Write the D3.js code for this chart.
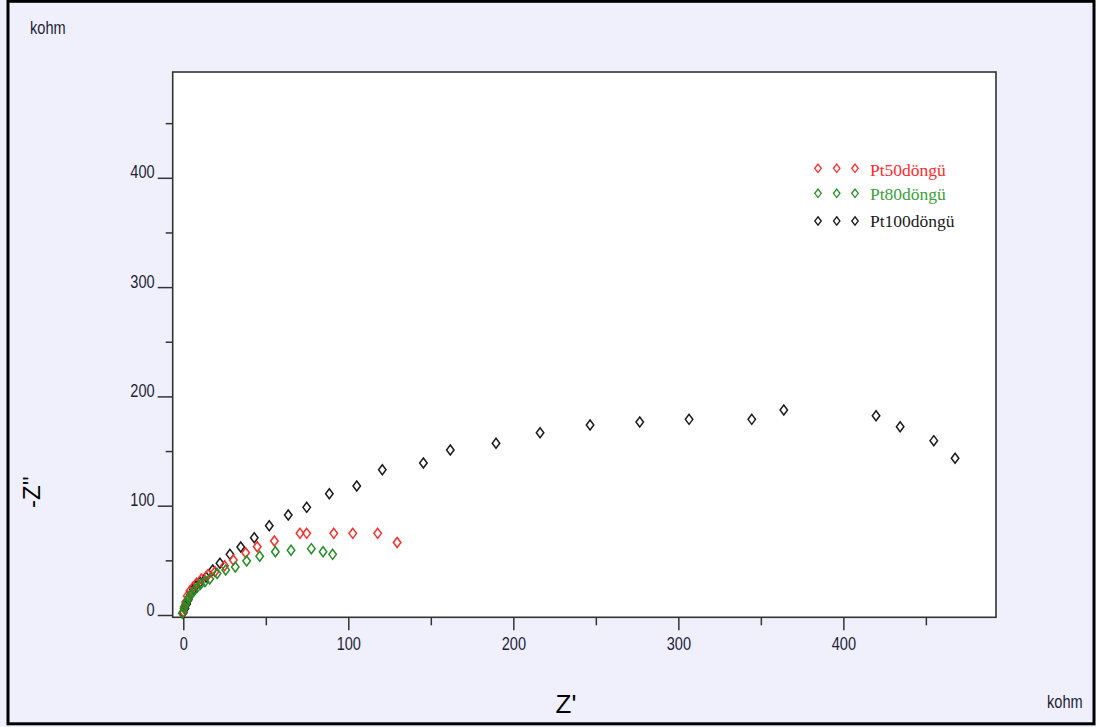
<!DOCTYPE html>
<html>
<head>
<meta charset="utf-8">
<script src="https://cdn.jsdelivr.net/npm/d3@7"></script>
<style>
  html, body { margin: 0; padding: 0; background: #f0f0fc; }
  svg { display: block; }
</style>
</head>
<body>
<svg id="chart" width="1096" height="727"></svg>
<script>
// ---- data (kohm) ----
const seriesNames = ["Pt50döngü", "Pt80döngü", "Pt100döngü"];
const seriesColors = ["#ff2a2a", "#229022", "#1a1a1a"];

const pt50X = [0, 0.6, 1.5, 2.4, 4, 6, 8, 11, 15, 19.2, 25, 30.3, 37.8, 44.8, 55.2, 70.7, 74.8, 91.2, 102.7, 117.8, 129.6];
const pt50Y = [3, 7.5, 12, 17.5, 22, 25.6, 29, 33, 37, 39.6, 45, 50.3, 57.0, 62.5, 67.7, 74.7, 74.7, 74.7, 74.7, 74.7, 66.3];

const pt80X = [-0.6, 0.4, 1.4, 2.4, 3.4, 4.8, 6.5, 8.5, 10.5, 13.1, 16, 20.5, 25.7, 31.5, 38.4, 46.3, 55.8, 65.3, 77.6, 84.7, 90.5];
const pt80Y = [1.5, 6.1, 9.8, 13.1, 16.2, 19.2, 22.2, 25.3, 28.1, 30.4, 33, 38, 41.2, 43.9, 49.4, 53.7, 57.9, 59.2, 60.7, 57.9, 55.5];

const pt100X = [0, 1, 2, 3, 4.5, 6, 7.5, 10.1, 13.8, 17.8, 22.2, 28.3, 34.8, 43.0, 52.1, 63.6, 74.8, 88.5, 105.1, 120.6, 145.5, 161.8, 189.5, 216.2, 246.5, 276.6, 306.5, 344.5, 363.9, 419.8, 434.4, 454.8, 467.7];
const pt100Y = [2, 6, 10, 14, 19, 23, 26.5, 30, 34.8, 41.2, 47.3, 55.5, 62.2, 70.7, 81.7, 91.5, 98.5, 111.0, 118.0, 132.9, 139.1, 151.0, 157.1, 166.8, 173.8, 176.6, 179.0, 179.0, 187.6, 182.3, 172.3, 159.5, 143.4];

const xMajorTicks = [0, 100, 200, 300, 400];
const xMinorTicks = [50, 150, 250, 350, 450];
const yMajorTicks = [0, 100, 200, 300, 400];
const yMinorTicks = [50, 150, 250, 350, 450];

const unitLabel = "kohm";
const xTitle = "Z'";
const yTitle = "-Z''";

// ---- layout ----
const W = 1096, H = 727;
const plot = { left: 172.7, right: 996, top: 72, bottom: 617.3 };

const svg = d3.select("#chart");
const numFont = "'Liberation Sans', Arial, sans-serif";

svg.append("rect").attr("x", 0).attr("y", 0).attr("width", W).attr("height", H).attr("fill", "#f0f0fc");
svg.append("rect").attr("x", 8).attr("y", 1.3).attr("width", 1086).attr("height", 722.5)
  .attr("fill", "none").attr("stroke", "#000").attr("stroke-width", 3);

const x = d3.scaleLinear().domain([-6.42, 492.5]).range([plot.left, plot.right]);
const y = d3.scaleLinear().domain([-2.1, 496.8]).range([plot.bottom, plot.top]);

svg.append("rect")
  .attr("x", plot.left).attr("y", plot.top)
  .attr("width", plot.right - plot.left).attr("height", plot.bottom - plot.top)
  .attr("fill", "#fff").attr("stroke", "#333").attr("stroke-width", 1.6);

// y axis
const yMinor = svg.append("g").attr("transform", `translate(${plot.left},0)`)
  .call(d3.axisLeft(y).tickValues(yMinorTicks).tickSize(7).tickFormat(""));
const yMajor = svg.append("g").attr("transform", `translate(${plot.left},0)`)
  .call(d3.axisLeft(y).tickValues(yMajorTicks).tickSize(15).tickPadding(3));
// x axis
const xMinor = svg.append("g").attr("transform", `translate(0,${plot.bottom})`)
  .call(d3.axisBottom(x).tickValues(xMinorTicks).tickSize(8).tickFormat(""));
const xMajor = svg.append("g").attr("transform", `translate(0,${plot.bottom})`)
  .call(d3.axisBottom(x).tickValues(xMajorTicks).tickSize(13));

[yMinor, yMajor, xMinor, xMajor].forEach(g => {
  g.select(".domain").remove();
  g.selectAll(".tick line").attr("stroke", "#333").attr("stroke-width", 1.5);
});
yMajor.selectAll(".tick text")
  .attr("dy", "0").attr("fill", "#1e1e36")
  .style("font-family", numFont).style("font-size", "18px");
xMajor.selectAll(".tick text")
  .attr("y", 0).attr("dy", "33px").attr("fill", "#1e1e36")
  .style("font-family", numFont).style("font-size", "18px");

// unit labels
svg.append("text").attr("class", "narrow").attr("x", 30).attr("y", 34).text(unitLabel)
  .attr("fill", "#1e1e36").style("font-family", numFont).style("font-size", "18px");
svg.append("text").attr("class", "narrow").attr("x", 1047).attr("y", 708).text(unitLabel)
  .attr("fill", "#1e1e36").style("font-family", numFont).style("font-size", "18px");

// condense the numeric/unit texts (the reference uses a narrow face)
yMajor.selectAll(".tick text").classed("narrow", true);
xMajor.selectAll(".tick text").classed("narrow", true);
svg.selectAll("text.narrow").each(function () {
  const len = this.getComputedTextLength();
  d3.select(this).attr("textLength", len * 0.81).attr("lengthAdjust", "spacingAndGlyphs");
});

// axis titles
svg.append("text").attr("x", 566).attr("y", 713).attr("text-anchor", "middle").text(xTitle)
  .attr("fill", "#000").style("font-family", "'Liberation Sans', Arial, sans-serif").style("font-size", "26px");
svg.append("text").attr("transform", "translate(40,492) rotate(-90)").attr("text-anchor", "middle").text(yTitle)
  .attr("fill", "#000").style("font-family", "'Liberation Sans', Arial, sans-serif").style("font-size", "24px");

// diamond marker path
function diamond(cx, cy, w = 7.5, h = 10) {
  return `M${cx},${cy - h / 2}L${cx + w / 2},${cy}L${cx},${cy + h / 2}L${cx - w / 2},${cy}Z`;
}

const series = [
  { name: seriesNames[2], color: seriesColors[2], xs: pt100X, ys: pt100Y },
  { name: seriesNames[0], color: seriesColors[0], xs: pt50X, ys: pt50Y },
  { name: seriesNames[1], color: seriesColors[1], xs: pt80X, ys: pt80Y },
];

series.forEach(s => {
  const pts = s.xs.map((v, i) => [v, s.ys[i]]);
  svg.append("g").selectAll("path").data(pts).join("path")
    .attr("d", d => diamond(x(d[0]), y(d[1])))
    .attr("fill", "none").attr("stroke", s.color).attr("stroke-width", 1.5);
});

// legend
const legendRows = [
  { name: seriesNames[0], color: seriesColors[0], my: 168.3, ty: 175.5 },
  { name: seriesNames[1], color: seriesColors[1], my: 193.3, ty: 200 },
  { name: seriesNames[2], color: seriesColors[2], my: 221, ty: 227 },
];
const leg = svg.append("g");
legendRows.forEach(r => {
  [818, 836.7, 855].forEach(mx => {
    leg.append("path").attr("d", diamond(mx, r.my, 6.5, 8.5))
      .attr("fill", "none").attr("stroke", r.color).attr("stroke-width", 1.3);
  });
  leg.append("text").attr("x", 870).attr("y", r.ty).text(r.name)
    .attr("fill", r.color === "#229022" ? "#3aa03a" : r.color)
    .style("font-family", "'Liberation Serif', 'Times New Roman', serif").style("font-size", "17.5px");
});
</script>
</body>
</html>
